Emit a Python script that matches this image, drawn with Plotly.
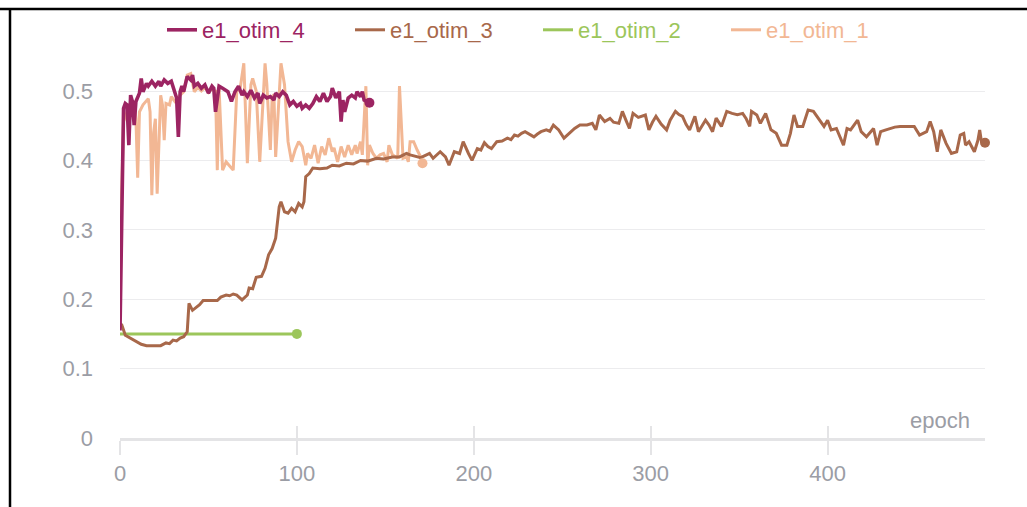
import plotly.graph_objects as go

# ---------------- data ----------------
names = ["e1_otim_1", "e1_otim_2", "e1_otim_3", "e1_otim_4"]
colors = ["#f2b794", "#9cc65b", "#a8684a", "#9c2462"]
widths = [3, 3, 3, 3.6]

otim1_epoch = [0, 2, 4, 6, 8, 9, 10, 11, 13, 15, 16, 17, 18, 19, 20, 21, 22, 23, 24, 25,
               26, 28, 29, 31, 33, 34, 36, 38, 40, 42, 44, 46, 48, 50, 52, 54, 55, 56, 58, 60,
               62, 64, 66, 68, 70, 72, 74, 75, 77, 79, 82, 83, 85, 86, 87, 88, 91, 93, 95, 97,
               99, 101, 103, 105, 106, 108, 110, 112, 114, 116, 118, 120, 121, 123, 125, 127, 129, 131, 133, 134,
               136, 137, 139, 140, 141, 143, 145, 147, 149, 151, 152, 154, 156, 157, 158, 160, 162, 163, 164, 166,
               168, 170, 171]
otim1_value = [0.271, 0.456, 0.47, 0.48, 0.485, 0.46, 0.375, 0.47, 0.48, 0.485, 0.489, 0.47, 0.35, 0.44, 0.46, 0.352, 0.44, 0.494, 0.48, 0.429,
               0.482, 0.48, 0.492, 0.485, 0.49, 0.494, 0.499, 0.523, 0.525, 0.499, 0.505, 0.5, 0.505, 0.498, 0.503, 0.5, 0.386, 0.504, 0.386, 0.398,
               0.392, 0.386, 0.499, 0.505, 0.54, 0.396, 0.509, 0.518, 0.5, 0.398, 0.54, 0.51, 0.415, 0.49, 0.495, 0.405, 0.54, 0.509, 0.427, 0.398,
               0.415, 0.427, 0.42, 0.393, 0.41, 0.403, 0.422, 0.396, 0.42, 0.408, 0.432, 0.4125, 0.418, 0.398, 0.42, 0.405, 0.422, 0.408, 0.422, 0.41,
               0.427, 0.408, 0.507, 0.393, 0.422, 0.41, 0.403, 0.408, 0.41, 0.398, 0.422, 0.408, 0.405, 0.403, 0.507, 0.403, 0.405, 0.398, 0.427, 0.427,
               0.415, 0.405, 0.396]

otim2_epoch = [0, 10, 20, 30, 40, 50, 60, 70, 80, 90, 100]
otim2_value = [0.15, 0.15, 0.15, 0.15, 0.15, 0.15, 0.15, 0.15, 0.15, 0.15, 0.15]

otim3_epoch = [0, 1, 3, 6, 9, 12, 15, 19, 23, 26, 28, 30, 32, 34, 36, 38, 39, 41, 43, 45,
               47, 51, 55, 57, 60, 62, 64, 66, 69, 72, 73, 75, 77, 80, 82, 84, 86, 88, 89, 90,
               91, 93, 95, 97, 99, 101, 103, 104, 105, 107, 109, 113, 117, 120, 124, 128, 132, 136, 140, 145,
               149, 154, 158, 162, 164, 167, 170, 175, 177, 181, 184, 186, 189, 192, 194, 197, 199, 202, 204, 206,
               208, 210, 213, 216, 219, 221, 223, 225, 227, 229, 231, 234, 236, 238, 241, 243, 245, 248, 251, 254,
               257, 260, 264, 267, 269, 271, 274, 277, 279, 282, 284, 286, 288, 290, 293, 297, 299, 301, 303, 306,
               309, 311, 314, 316, 318, 320, 322, 325, 327, 331, 333, 335, 337, 340, 343, 346, 349, 352, 354, 356,
               357, 360, 362, 365, 368, 371, 374, 377, 379, 381, 383, 386, 389, 392, 394, 396, 398, 400, 402, 405,
               409, 411, 413, 417, 419, 422, 426, 428, 430, 433, 435, 438, 441, 445, 449, 452, 456, 458, 460, 462,
               464, 467, 470, 473, 475, 477, 478, 480, 483, 485, 486, 487, 489]
otim3_value = [0.165, 0.163, 0.148, 0.144, 0.139, 0.135, 0.133, 0.133, 0.133, 0.137, 0.136, 0.141, 0.14, 0.144, 0.146, 0.153, 0.194, 0.184, 0.188, 0.192,
               0.198, 0.198, 0.198, 0.203, 0.206, 0.205, 0.2075, 0.206, 0.199, 0.206, 0.216, 0.215, 0.2315, 0.233, 0.2445, 0.264, 0.273, 0.288, 0.307, 0.333,
               0.3405, 0.326, 0.324, 0.331, 0.326, 0.338, 0.333, 0.3405, 0.3765, 0.381, 0.389, 0.388, 0.389, 0.393, 0.392, 0.396, 0.395, 0.4, 0.399, 0.403,
               0.402, 0.405, 0.405, 0.41, 0.408, 0.406, 0.404, 0.41, 0.403, 0.4125, 0.405, 0.393, 0.4125, 0.41, 0.427, 0.41, 0.4, 0.417, 0.415, 0.4255,
               0.42, 0.417, 0.427, 0.428, 0.432, 0.43, 0.4366, 0.435, 0.439, 0.4414, 0.438, 0.434, 0.438, 0.4414, 0.444, 0.442, 0.451, 0.444, 0.432, 0.439,
               0.446, 0.451, 0.451, 0.4534, 0.444, 0.4654, 0.456, 0.4606, 0.455, 0.4534, 0.4707, 0.458, 0.446, 0.4678, 0.462, 0.4654, 0.444, 0.455, 0.4635, 0.452,
               0.444, 0.458, 0.4707, 0.466, 0.4635, 0.452, 0.444, 0.4635, 0.4414, 0.458, 0.451, 0.4414, 0.461, 0.449, 0.4707, 0.4678, 0.466, 0.4678, 0.46, 0.449,
               0.4707, 0.4654, 0.4534, 0.4678, 0.444, 0.439, 0.422, 0.422, 0.439, 0.4654, 0.449, 0.449, 0.4726, 0.4707, 0.4635, 0.455, 0.449, 0.458, 0.444, 0.446,
               0.422, 0.446, 0.444, 0.458, 0.4414, 0.434, 0.446, 0.422, 0.4414, 0.444, 0.446, 0.448, 0.449, 0.449, 0.449, 0.4366, 0.4414, 0.456, 0.4414, 0.4125,
               0.444, 0.4246, 0.41, 0.4125, 0.4366, 0.439, 0.422, 0.427, 0.4125, 0.429, 0.444, 0.427, 0.4255]

otim4_epoch = [0, 2, 3, 4, 5, 6, 7, 8, 9, 11, 12, 13, 15, 16, 18, 20, 22, 23, 25, 27,
               29, 31, 32, 33, 34, 35, 36, 38, 40, 41, 42, 44, 46, 48, 50, 52, 53, 54, 56, 58,
               60, 61, 63, 65, 67, 69, 70, 72, 74, 76, 78, 79, 81, 83, 85, 87, 88, 90, 92, 94,
               96, 98, 100, 102, 103, 105, 107, 109, 111, 113, 115, 117, 119, 120, 122, 124, 125, 126, 127, 129,
               131, 133, 134, 136, 137, 138, 141]
otim4_value = [0.155, 0.475, 0.482, 0.48, 0.422, 0.494, 0.485, 0.451, 0.485, 0.497, 0.518, 0.499, 0.511, 0.507, 0.514, 0.507, 0.514, 0.507, 0.516, 0.511,
               0.514, 0.497, 0.49, 0.434, 0.499, 0.507, 0.499, 0.521, 0.516, 0.523, 0.507, 0.511, 0.504, 0.509, 0.497, 0.507, 0.504, 0.47, 0.507, 0.504,
               0.5, 0.499, 0.485, 0.499, 0.507, 0.494, 0.499, 0.492, 0.501, 0.49, 0.497, 0.482, 0.494, 0.49, 0.492, 0.487, 0.497, 0.492, 0.499, 0.494,
               0.48, 0.485, 0.478, 0.482, 0.475, 0.48, 0.475, 0.482, 0.492, 0.485, 0.497, 0.485, 0.492, 0.504, 0.49, 0.499, 0.456, 0.487, 0.47, 0.49,
               0.494, 0.49, 0.499, 0.492, 0.499, 0.487, 0.483]

x_tick_vals = [0, 100, 200, 300, 400]
x_tick_text = ["0", "100", "200", "300", "400"]
y_tick_vals = [0, 0.1, 0.2, 0.3, 0.4, 0.5]
y_tick_text = ["0", "0.1", "0.2", "0.3", "0.4", "0.5"]
x_range = [0, 489]
y_range = [0, 0.5447]
x_title = "epoch"

# ---------------- figure ----------------
series = [
    (names[0], otim1_epoch, otim1_value, colors[0], widths[0]),
    (names[1], otim2_epoch, otim2_value, colors[1], widths[1]),
    (names[2], otim3_epoch, otim3_value, colors[2], widths[2]),
    (names[3], otim4_epoch, otim4_value, colors[3], widths[3]),
]

fig = go.Figure()
for name, xs, ys, col, lw in series:
    fig.add_trace(go.Scatter(
        x=xs, y=ys, mode="lines",
        name=f"<span style='color:{col}'>{name}</span>",
        line=dict(color=col, width=lw),
        hoverinfo="skip",
    ))
for name, xs, ys, col, lw in series:
    fig.add_trace(go.Scatter(
        x=[xs[-1]], y=[ys[-1]], mode="markers",
        marker=dict(color=col, size=10),
        showlegend=False, cliponaxis=False, hoverinfo="skip",
    ))
# invisible helper trace so the overlaid tick axis is drawn
fig.add_trace(go.Scatter(x=[otim2_epoch[0]], y=[otim2_value[0]], xaxis="x2",
                         mode="markers", marker=dict(opacity=0), showlegend=False, hoverinfo="skip"))

W, H = 1027, 507
ML, MR, MT, MB = 120, 42, 60, 69
PL, PR, PT, PB = ML, W - MR, MT, H - MB


def px_x(p):
    return (p - PL) / (PR - PL)


def px_y(p):
    return (PB - p) / (PB - PT)


axis_grey = "#e4e4e6"
text_grey = "#9b9da5"

fig.update_layout(
    width=W, height=H, autosize=False,
    margin=dict(l=ML, r=MR, t=MT, b=MB, pad=0, autoexpand=False),
    paper_bgcolor="white", plot_bgcolor="white",
    font=dict(family="Liberation Sans, Arial, sans-serif", size=22, color=text_grey),
    showlegend=True,
    legend=dict(orientation="h", x=px_x(538), xanchor="center", y=px_y(30), yanchor="middle",
                traceorder="reversed", font=dict(size=22), bgcolor="rgba(0,0,0,0)",
                entrywidth=143, entrywidthmode="pixels", itemwidth=30),
    xaxis=dict(range=x_range, tickvals=x_tick_vals, ticktext=x_tick_text,
               showgrid=False, zeroline=False, showline=True, linecolor=axis_grey, linewidth=3,
               ticks="outside", ticklen=14, tickcolor=axis_grey, tickwidth=1.5),
    xaxis2=dict(range=x_range, overlaying="x", anchor="y", side="bottom", tickvals=x_tick_vals,
                showticklabels=False, ticks="inside", ticklen=12, tickcolor=axis_grey, tickwidth=1.5,
                showgrid=False, zeroline=False, showline=False),
    yaxis=dict(range=y_range, tickvals=y_tick_vals, ticktext=y_tick_text,
               showgrid=True, gridcolor="#ececee", gridwidth=1, zeroline=False, showline=False,
               ticks="", ticklabelstandoff=26),
    annotations=[dict(text=x_title, xref="paper", yref="paper", x=px_x(972), y=px_y(420),
                      xanchor="right", yanchor="middle", showarrow=False,
                      font=dict(size=22, color=text_grey))],
    shapes=[
        dict(type="line", xref="paper", yref="paper", x0=px_x(0), x1=px_x(W + 5), y0=px_y(9), y1=px_y(9),
             line=dict(color="black", width=2.5)),
        dict(type="line", xref="paper", yref="paper", x0=px_x(10), x1=px_x(10), y0=px_y(9), y1=px_y(H + 5),
             line=dict(color="black", width=2.5)),
    ],
)

fig.write_html("out.html", config={"displayModeBar": False},
               post_script="document.body.style.margin='0';document.body.style.overflow='hidden';")
